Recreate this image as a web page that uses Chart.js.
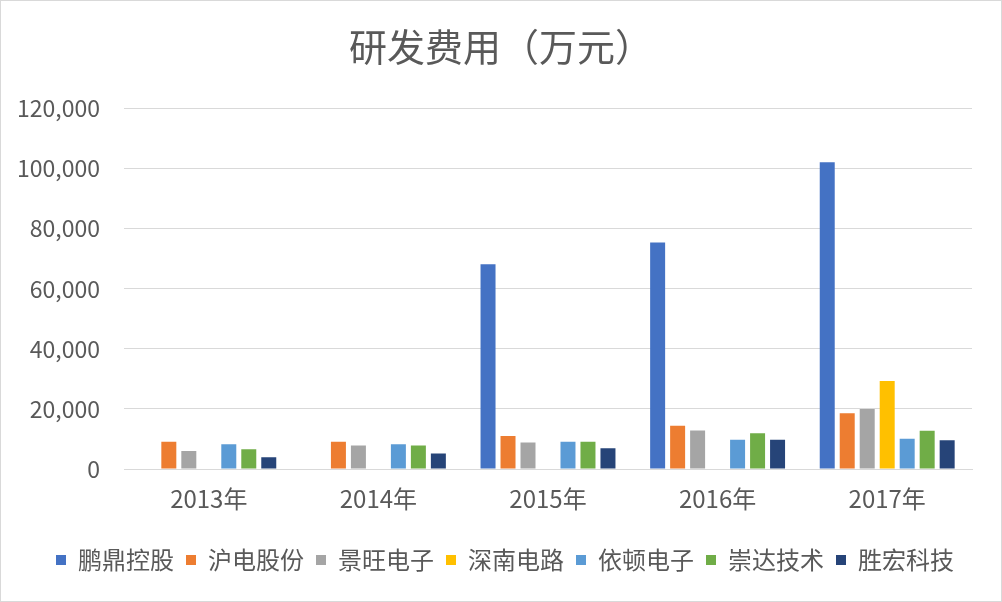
<!DOCTYPE html>
<html>
<head>
<meta charset="utf-8">
<script src="https://cdn.jsdelivr.net/npm/chart.js@4.4.1/dist/chart.umd.min.js"></script>
<style>
  html, body { margin: 0; padding: 0; background: #fff; }
  #wrap { width: 1002px; height: 602px; position: relative; }
</style>
</head>
<body>
<div id="wrap"><canvas id="chart" width="1002" height="602"></canvas></div>
<script>
// categories and series (万元)
const years = ['2013年', '2014年', '2015年', '2016年', '2017年'];
const pengding = [null, null, 68200, 75400, 102100];
const huDian = [9100, 9100, 11000, 14400, 18600];
const jingWang = [6000, 7800, 8800, 12800, 20000];
const shenNan = [null, null, null, null, 29300];
const yiDun = [8200, 8200, 9100, 9700, 10100];
const chongDa = [6600, 7800, 9100, 11900, 12700];
const shengHong = [3900, 5200, 6900, 9700, 9600];
const yTicks = [0, 20000, 40000, 60000, 80000, 100000, 120000];

const font = "'Noto Sans CJK SC', 'Noto Sans', sans-serif";
const textColor = '#595959';

// thin frame round the whole chart, like the Excel chart border
const framePlugin = {
  id: 'frame',
  afterDraw(chart) {
    const ctx = chart.ctx;
    ctx.save();
    ctx.strokeStyle = '#D9D9D9';
    ctx.lineWidth = 1;
    ctx.strokeRect(0.5, 0.5, chart.width - 1, chart.height - 1);
    ctx.restore();
  }
};

// the excel title and legend sit a little right of centre
const boxShift = {
  id: 'boxShift',
  afterLayout(chart) {
    chart.legend.left += 13;
    chart.legend.right += 13;
    chart.titleBlock.left += 9;
    chart.titleBlock.right += 9;
  }
};

new Chart(document.getElementById('chart').getContext('2d'), {
  type: 'bar',
  data: {
    labels: years,
    datasets: [
      { label: '鹏鼎控股', data: pengding, backgroundColor: '#4472C4' },
      { label: '沪电股份', data: huDian, backgroundColor: '#ED7D31' },
      { label: '景旺电子', data: jingWang, backgroundColor: '#A5A5A5' },
      { label: '深南电路', data: shenNan, backgroundColor: '#FFC000' },
      { label: '依顿电子', data: yiDun, backgroundColor: '#5B9BD5' },
      { label: '崇达技术', data: chongDa, backgroundColor: '#70AD47' },
      { label: '胜宏科技', data: shengHong, backgroundColor: '#264478' }
    ]
  },
  options: {
    responsive: false,
    animation: false,
    datasets: {
      bar: { categoryPercentage: 0.825, barPercentage: 0.75 }
    },
    layout: { padding: { left: 12, right: 30, top: 0, bottom: 20 } },
    plugins: {
      title: {
        display: true,
        text: '研发费用（万元）',
        color: textColor,
        font: { family: font, size: 38, weight: 'normal' },
        padding: { top: 24, bottom: 39 }
      },
      legend: {
        position: 'bottom',
        labels: {
          color: textColor,
          font: { family: font, size: 24 },
          boxWidth: 10,
          boxHeight: 10,
          padding: 12
        }
      },
      tooltip: { enabled: false }
    },
    scales: {
      x: {
        afterFit(scale) { scale.height = 67; },
        grid: { display: false, drawTicks: false },
        border: { color: '#D9D9D9' },
        ticks: {
          color: textColor,
          font: { family: font, size: 24 },
          padding: 15
        }
      },
      y: {
        min: 0,
        max: 120000,
        afterFit(scale) { scale.width = 112; },
        afterBuildTicks(scale) { scale.ticks = yTicks.map(v => ({ value: v })); },
        grid: { color: '#D9D9D9', drawTicks: false },
        border: { display: false },
        ticks: {
          color: textColor,
          font: { family: font, size: 23 },
          padding: 24,
          callback: v => v.toLocaleString('en-US')
        }
      }
    }
  },
  plugins: [framePlugin, boxShift]
});
</script>
</body>
</html>
